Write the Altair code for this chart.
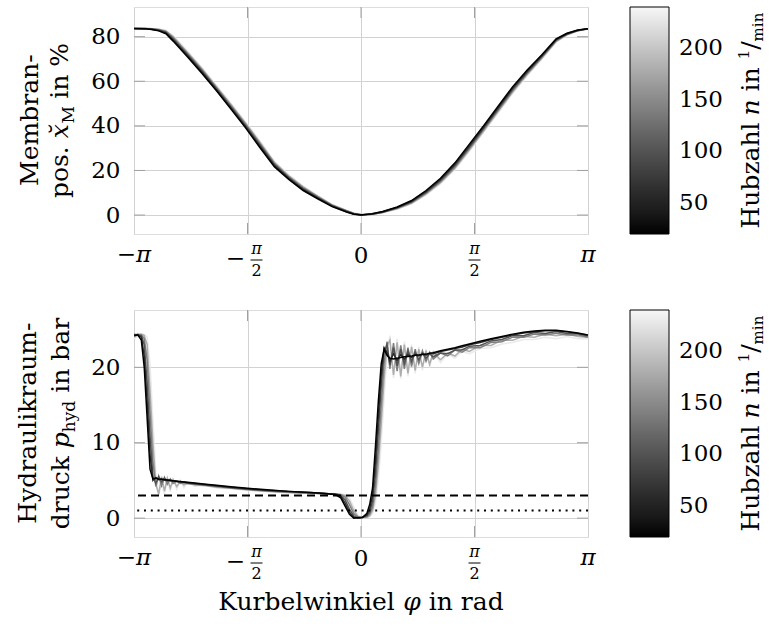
import math
import altair as alt
import pandas as pd

PI = math.pi

# ---------------- data ----------------
N_LEVELS = [20, 60, 100, 140, 180, 230]

M_PHI = [-3.14, -3.00, -2.90, -2.80, -2.70, -2.60, -2.40, -2.20, -2.00, -1.80,
         -1.60, -1.40, -1.20, -1.00, -0.80, -0.60, -0.40, -0.20, -0.10, 0.00,
         0.15, 0.30, 0.50, 0.70, 0.90, 1.10, 1.30, 1.50, 1.70, 1.90,
         2.10, 2.30, 2.50, 2.70, 2.85, 3.00, 3.14]
M_N20 = [83.7, 83.6, 83.2, 82.6, 81.3, 78.0, 70.9, 63.5, 55.7, 47.5,
         39.2, 30.3, 21.7, 16.0, 11.0, 7.3, 3.8, 1.4, 0.4, 0.0,
         0.6, 1.6, 3.6, 6.5, 11.0, 16.5, 23.4, 31.8, 40.2, 48.9,
         57.6, 65.0, 71.8, 79.0, 81.5, 83.0, 83.5]
M_N60 = [83.7, 83.6, 83.3, 82.8, 81.7, 78.5, 71.4, 64.0, 56.1, 48.0,
         39.7, 30.9, 22.2, 16.4, 11.4, 7.6, 4.0, 1.5, 0.5, 0.0,
         0.5, 1.5, 3.4, 6.2, 10.6, 16.0, 22.8, 31.1, 39.6, 48.3,
         57.0, 64.5, 71.4, 78.7, 81.3, 82.9, 83.5]
M_N100 = [83.7, 83.7, 83.4, 83.0, 82.0, 79.0, 71.9, 64.6, 56.6, 48.5,
          40.2, 31.5, 22.7, 16.8, 11.8, 7.9, 4.2, 1.7, 0.6, 0.1,
          0.4, 1.3, 3.2, 5.9, 10.2, 15.5, 22.2, 30.4, 39.0, 47.7,
          56.4, 64.0, 71.0, 78.4, 81.2, 82.8, 83.5]
M_N140 = [83.6, 83.7, 83.5, 83.1, 82.3, 79.5, 72.4, 65.1, 57.1, 49.0,
          40.8, 32.1, 23.2, 17.2, 12.2, 8.2, 4.4, 1.9, 0.7, 0.1,
          0.3, 1.2, 3.0, 5.6, 9.8, 15.0, 21.6, 29.8, 38.4, 47.1,
          55.8, 63.5, 70.6, 78.1, 81.0, 82.7, 83.5]
M_N180 = [83.6, 83.7, 83.6, 83.3, 82.6, 80.0, 72.9, 65.6, 57.6, 49.6,
          41.3, 32.7, 23.7, 17.6, 12.6, 8.5, 4.6, 2.0, 0.8, 0.2,
          0.3, 1.1, 2.8, 5.3, 9.4, 14.5, 21.0, 29.2, 37.8, 46.5,
          55.2, 63.0, 70.2, 77.8, 80.8, 82.6, 83.4]
M_N230 = [83.5, 83.7, 83.7, 83.4, 82.9, 80.5, 73.4, 66.1, 58.1, 50.1,
          41.9, 33.3, 24.2, 18.0, 13.0, 8.8, 4.8, 2.2, 0.9, 0.2,
          0.2, 1.0, 2.6, 5.0, 9.0, 14.0, 20.4, 28.6, 37.2, 45.9,
          54.6, 62.5, 69.8, 77.5, 80.6, 82.5, 83.4]

P_PHI = [-3.14, -3.09, -3.04, -3.00, -2.96, -2.92, -2.88, -2.84, -2.80, -2.76,
         -2.72, -2.68, -2.64, -2.60, -2.55, -2.50, -2.45, -2.40, -2.30, -2.15,
         -2.00, -1.80, -1.57, -1.30, -1.00, -0.70, -0.45, -0.35, -0.28, -0.22,
         -0.16, -0.10, -0.04, 0.02, 0.08, 0.12, 0.16, 0.20, 0.24, 0.28,
         0.32, 0.36, 0.40, 0.45, 0.50, 0.55, 0.60, 0.65, 0.70, 0.75,
         0.80, 0.85, 0.90, 0.95, 1.00, 1.10, 1.20, 1.30, 1.40, 1.50,
         1.65, 1.80, 1.95, 2.10, 2.25, 2.40, 2.55, 2.70, 2.85, 3.00, 3.14]
P_N20 = [24.2, 24.3, 23.6, 20.0, 13.3, 6.5, 5.2, 5.3, 5.2, 5.15,
         5.1, 5.05, 5.0, 4.95, 4.9, 4.85, 4.8, 4.75, 4.65, 4.5,
         4.35, 4.15, 3.95, 3.75, 3.55, 3.4, 3.25, 3.1, 2.7, 1.6,
         0.5, 0.0, 0.1, 0.1, 0.6, 1.8, 4.0, 9.5, 15.5, 20.5,
         22.4, 21.6, 21.2, 21.1, 21.2, 21.3, 21.4, 21.45, 21.5, 21.6,
         21.65, 21.7, 21.75, 21.85, 21.95, 22.2, 22.4, 22.6, 22.85, 23.1,
         23.45, 23.8, 24.1, 24.4, 24.65, 24.8, 24.9, 24.9, 24.75, 24.55, 24.3]
P_N60 = [24.3, 24.3, 24.0, 21.5, 15.5, 8.5, 5.0, 5.4, 5.1, 5.2,
         5.05, 5.05, 4.95, 4.95, 4.9, 4.8, 4.8, 4.7, 4.6, 4.45,
         4.3, 4.1, 3.9, 3.7, 3.55, 3.4, 3.25, 3.15, 2.9, 2.0,
         0.8, 0.1, 0.0, 0.1, 0.4, 1.2, 3.0, 7.5, 13.5, 19.0,
         22.6, 22.0, 20.8, 21.8, 20.9, 21.7, 21.1, 21.7, 21.3, 21.7,
         21.5, 21.8, 21.6, 21.9, 21.8, 22.1, 22.3, 22.5, 22.7, 23.0,
         23.3, 23.7, 24.0, 24.3, 24.55, 24.7, 24.85, 24.85, 24.7, 24.5, 24.25]
P_N100 = [24.4, 24.3, 24.2, 23.0, 18.0, 11.0, 5.5, 4.6, 5.5, 4.8,
          5.3, 4.9, 5.1, 4.9, 4.85, 4.8, 4.75, 4.65, 4.55, 4.4,
          4.25, 4.05, 3.85, 3.65, 3.5, 3.35, 3.25, 3.2, 3.0, 2.4,
          1.2, 0.3, 0.0, 0.1, 0.3, 0.8, 2.2, 5.8, 11.5, 17.5,
          22.0, 23.0, 20.3, 22.6, 20.2, 22.4, 20.5, 22.2, 20.8, 22.0,
          21.0, 21.9, 21.2, 21.8, 21.4, 21.9, 21.8, 22.3, 22.3, 22.8,
          22.9, 23.5, 23.7, 24.2, 24.2, 24.6, 24.5, 24.75, 24.5, 24.45, 24.15]
P_N140 = [24.2, 24.4, 24.3, 23.8, 21.0, 14.0, 7.5, 4.2, 5.6, 4.3,
          5.4, 4.5, 5.2, 4.6, 4.9, 4.6, 4.7, 4.55, 4.5, 4.35,
          4.2, 4.0, 3.8, 3.6, 3.45, 3.35, 3.25, 3.2, 3.1, 2.8,
          1.8, 0.6, 0.1, 0.1, 0.2, 0.5, 1.5, 4.2, 9.0, 15.0,
          20.5, 23.4, 19.8, 23.2, 19.5, 22.9, 19.8, 22.6, 20.1, 22.4,
          20.5, 22.2, 20.8, 22.0, 21.1, 21.9, 21.5, 22.3, 22.0, 22.6,
          22.6, 23.3, 23.4, 24.0, 24.0, 24.4, 24.3, 24.5, 24.3, 24.3, 24.0]
P_N180 = [24.0, 24.3, 24.4, 24.2, 23.0, 17.0, 10.0, 4.5, 3.2, 5.5,
          3.6, 5.3, 4.0, 5.1, 4.2, 4.9, 4.4, 4.7, 4.4, 4.3,
          4.1, 3.95, 3.75, 3.55, 3.4, 3.3, 3.2, 3.2, 3.15, 3.0,
          2.3, 1.0, 0.2, 0.1, 0.1, 0.3, 1.0, 3.0, 7.0, 12.5,
          18.5, 22.8, 23.6, 19.0, 23.3, 18.8, 23.0, 19.2, 22.7, 19.6,
          22.4, 20.0, 22.2, 20.4, 22.0, 21.0, 21.9, 21.5, 22.4, 22.1,
          22.9, 22.9, 23.6, 23.6, 24.1, 24.0, 24.4, 24.2, 24.4, 24.1, 24.0]
P_N230 = [23.8, 24.1, 24.4, 24.4, 24.0, 20.5, 13.0, 6.0, 3.0, 4.8,
          3.2, 5.4, 3.5, 5.2, 3.8, 5.0, 4.0, 4.8, 4.2, 4.5,
          4.0, 3.9, 3.65, 3.5, 3.35, 3.3, 3.2, 3.2, 3.2, 3.1,
          2.7, 1.5, 0.4, 0.1, 0.1, 0.2, 0.6, 2.0, 5.0, 10.0,
          16.0, 21.5, 24.2, 18.6, 23.8, 18.5, 23.4, 18.8, 23.0, 19.2,
          22.7, 19.6, 22.4, 20.0, 22.1, 20.6, 21.8, 21.2, 22.1, 21.8,
          22.5, 22.6, 23.1, 23.3, 23.7, 23.7, 24.0, 23.8, 24.1, 23.8, 23.8]

M_SERIES = {20: M_N20, 60: M_N60, 100: M_N100, 140: M_N140, 180: M_N180, 230: M_N230}
P_SERIES = {20: P_N20, 60: P_N60, 100: P_N100, 140: P_N140, 180: P_N180, 230: P_N230}

X_TICKS = [-PI, -PI / 2, 0, PI / 2, PI]
X_INNER = [-PI / 2, 0, PI / 2]
M_TICKS = [0, 20, 40, 60, 80]
P_TICKS = [0, 10, 20]
CB_TICKS = [50, 100, 150, 200]
N_DOMAIN = [20, 240]
P_DASHED = 3
P_DOTTED = 1

# ---------------- style ----------------
FONT = "DejaVu Serif"
W, H = 454, 227
LAB = 23
TIT = 25
SUB = 17
GRID = "#d2d2d2"
TICKC = "#a0a0a0"

# approximate DejaVu Serif advance widths (em)
CW = {'a': .596, 'b': .642, 'c': .560, 'd': .642, 'e': .590, 'h': .643, 'i': .321,
      'k': .598, 'l': .321, 'm': .960, 'n': .643, 'o': .602, 'p': .642, 'r': .478,
      's': .512, 'u': .643, 'w': .852, 'x': .589, 'y': .569, 'z': .523, 'H': .836,
      'K': .762, 'M': .986, ' ': .318, '.': .318, '-': .339, '%': .950, '/': .337,
      '1': .636, 'φ': .70, '\u0306': 0.0}


def tw(s, size):
    return sum(CW.get(c, 0.6) for c in s) * size


ONE = pd.DataFrame({"k": [0]})
color_scale = alt.Scale(domain=N_DOMAIN, range=["#000000", "#f7f7f7"])


def xe():
    return alt.X("phi:Q", scale=alt.Scale(domain=[-PI, PI], nice=False, zero=False),
                 axis=alt.Axis(values=X_TICKS, labels=False, ticks=False, tickSize=0,
                               domain=False, grid=True, gridColor=GRID, gridWidth=1,
                               title=None))


def make_ye(dom, ticks):
    def ye():
        return alt.Y("val:Q", scale=alt.Scale(domain=dom, nice=False, zero=False),
                     axis=alt.Axis(values=ticks, grid=True, gridColor=GRID, gridWidth=1,
                                   ticks=False, tickSize=0, domain=False, labelFont=FONT,
                                   labelFontSize=LAB, labelColor="black", labelPadding=14,
                                   title=None))
    return ye


def legend():
    return alt.Legend(title=None, orient="none", legendX=W + 42, legendY=0,
                      direction="vertical", gradientLength=H, gradientThickness=39,
                      gradientStrokeColor="black", gradientStrokeWidth=1,
                      values=CB_TICKS, labelFont=FONT, labelFontSize=LAB,
                      labelColor="black", labelOffset=10, labelOverlap=False, padding=0)


def vpieces(pieces, x_base, center_y):
    """rotated (reading upward) title built from pieces"""
    total = sum(gap + tw(t, s) for t, s, st, sh, gap in pieces)
    y = center_y + total / 2
    out = []
    for t, s, st, sh, gap in pieces:
        y -= gap
        out.append(alt.Chart(ONE).mark_text(text=t, font=FONT, fontSize=s, fontStyle=st,
                                            angle=270, align="left", baseline="alphabetic",
                                            color="black")
                   .encode(x=alt.value(x_base + sh), y=alt.value(y)))
        y -= tw(t, s)
    return out


def hpieces(pieces, center_x, y_base):
    total = sum(gap + tw(t, s) for t, s, st, sh, gap in pieces)
    x = center_x - total / 2
    out = []
    for t, s, st, sh, gap in pieces:
        x += gap
        out.append(alt.Chart(ONE).mark_text(text=t, font=FONT, fontSize=s, fontStyle=st,
                                            align="left", baseline="alphabetic", color="black")
                   .encode(x=alt.value(x), y=alt.value(y_base + sh)))
        x += tw(t, s)
    return out


def xlabels():
    L = []
    L.append(alt.Chart(pd.DataFrame({"phi": [-PI]})).mark_text(
        text="−π", font=FONT, fontSize=LAB, fontStyle="italic", baseline="middle",
        align="center", color="black").encode(x=xe(), y=alt.value(H + 21)))
    L.append(alt.Chart(pd.DataFrame({"phi": [0.0]})).mark_text(
        text="0", font=FONT, fontSize=LAB, baseline="middle",
        align="center", color="black").encode(x=xe(), y=alt.value(H + 22)))
    L.append(alt.Chart(pd.DataFrame({"phi": [PI]})).mark_text(
        text="π", font=FONT, fontSize=LAB, fontStyle="italic", baseline="middle",
        align="center", color="black").encode(x=xe(), y=alt.value(H + 21)))
    for val, off in [(-PI / 2, 9), (PI / 2, 0)]:
        d = pd.DataFrame({"phi": [val]})
        L.append(alt.Chart(d).mark_text(text="π", font=FONT, fontSize=16, fontStyle="italic",
                                        baseline="middle", align="center", dx=off,
                                        color="black").encode(x=xe(), y=alt.value(H + 15)))
        L.append(alt.Chart(d).mark_text(text="2", font=FONT, fontSize=16,
                                        baseline="middle", align="center", dx=off,
                                        color="black").encode(x=xe(), y=alt.value(H + 37)))
        L.append(alt.Chart(d).mark_rule(color="black", strokeWidth=1, xOffset=off - 6,
                                        x2Offset=off + 6)
                 .encode(x=xe(), x2=alt.X2("phi"), y=alt.value(H + 26)))
        if val < 0:
            L.append(alt.Chart(d).mark_text(text="−", font=FONT, fontSize=LAB,
                                            baseline="middle", align="center", dx=-12,
                                            color="black").encode(x=xe(), y=alt.value(H + 25)))
    return L


def tick_rules(ye, yticks):
    L = []
    yd = pd.DataFrame({"val": yticks})
    L.append(alt.Chart(yd).mark_rule(color=TICKC, strokeWidth=1)
             .encode(y=ye(), x=alt.value(0), x2=alt.value(11)))
    L.append(alt.Chart(yd).mark_rule(color=TICKC, strokeWidth=1)
             .encode(y=ye(), x=alt.value(W - 11), x2=alt.value(W)))
    xd = pd.DataFrame({"phi": X_INNER})
    L.append(alt.Chart(xd).mark_rule(color=TICKC, strokeWidth=1)
             .encode(x=xe(), y=alt.value(0), y2=alt.value(11)))
    L.append(alt.Chart(xd).mark_rule(color=TICKC, strokeWidth=1)
             .encode(x=xe(), y=alt.value(H - 11), y2=alt.value(H)))
    return L


def line_layers(phi, series, ye):
    L = []
    for n in sorted(series.keys(), reverse=True):
        d = pd.DataFrame({"phi": phi, "val": series[n], "n": [n] * len(phi)})
        L.append(alt.Chart(d).mark_line(strokeWidth=1.5, clip=True).encode(
            x=xe(), y=ye(),
            color=alt.Color("n:Q", scale=color_scale, legend=legend())))
    return L


def cb_title():
    sp = CW[' '] * TIT
    return vpieces([("Hubzahl", TIT, "normal", 0, 0),
                    ("n", TIT, "italic", 0, sp),
                    ("in", TIT, "normal", 0, sp),
                    ("1", 15, "normal", -10, sp),
                    ("/", TIT, "normal", 0, 0),
                    ("min", 15, "normal", 4, 0)], 625, H / 2)


sp = CW[' '] * TIT

# ---------------- top panel ----------------
ye_m = make_ye([-8.5, 93.3], M_TICKS)
top_layers = (tick_rules(ye_m, M_TICKS) + line_layers(M_PHI, M_SERIES, ye_m) + xlabels()
              + vpieces([("Membran-", TIT, "normal", 0, 0)], -96, H / 2)
              + vpieces([("pos.", TIT, "normal", 0, 0),
                         ("x\u0306", TIT, "italic", 0, sp),
                         ("M", SUB, "normal", 6, 0),
                         ("in %", TIT, "normal", 0, sp)], -66, H / 2)
              + cb_title())
top = alt.layer(*top_layers).properties(width=W, height=H)

# ---------------- bottom panel ----------------
ye_p = make_ye([-2.5, 27.6], P_TICKS)
ref_layers = [
    alt.Chart(pd.DataFrame({"val": [P_DASHED]})).mark_rule(
        color="black", strokeWidth=1.8, strokeDash=[8, 5]).encode(y=ye_p()),
    alt.Chart(pd.DataFrame({"val": [P_DOTTED]})).mark_rule(
        color="black", strokeWidth=2, strokeDash=[2, 4.8]).encode(y=ye_p()),
]
bot_layers = (tick_rules(ye_p, P_TICKS) + line_layers(P_PHI, P_SERIES, ye_p) + ref_layers
              + xlabels()
              + vpieces([("Hydraulikraum-", TIT, "normal", 0, 0)], -98, H / 2)
              + vpieces([("druck", TIT, "normal", 0, 0),
                         ("p", TIT, "italic", 0, sp),
                         ("hyd", SUB, "normal", 6, 0),
                         ("in bar", TIT, "normal", 0, sp)], -65, H / 2)
              + cb_title()
              + hpieces([("Kurbelwinkiel", TIT, "normal", 0, 0),
                         ("φ", TIT, "italic", 0, sp),
                         ("in rad", TIT, "normal", 0, sp)], W / 2, H + 73))
bottom = alt.layer(*bot_layers).properties(width=W, height=H)

chart = (alt.vconcat(top, bottom, spacing=76, bounds="flush")
         .resolve_scale(color="independent", y="independent")
         .resolve_legend(color="independent")
         .properties(padding={"left": 15, "top": 6, "right": 0, "bottom": 4},
                     background="white")
         .configure_view(stroke="black", strokeWidth=1.2)
         .configure(font=FONT))

chart.save("out.html", embed_options={"renderer": "svg", "actions": False})
